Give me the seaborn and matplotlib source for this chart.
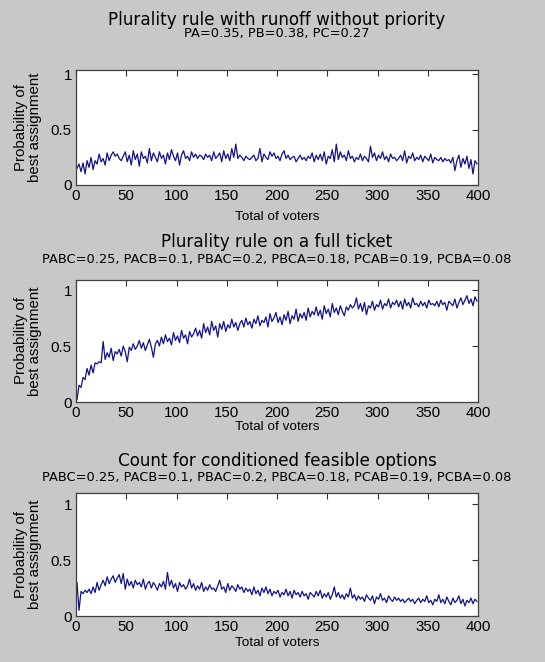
import numpy as np
import pandas as pd
import matplotlib
matplotlib.use("Agg")
import matplotlib.pyplot as plt
import seaborn as sns

# ---- data (one value every 2 voters) ----
voters = np.arange(1, 401, 2)

runoff = [
    0.15, 0.19, 0.12, 0.20, 0.10, 0.22, 0.16, 0.25, 0.14, 0.22, 0.19, 0.28, 0.21, 0.24, 0.18, 0.29, 0.22, 0.27, 0.30, 0.26,
    0.28, 0.24, 0.22, 0.26, 0.30, 0.21, 0.27, 0.18, 0.31, 0.23, 0.28, 0.17, 0.30, 0.24, 0.26, 0.20, 0.33, 0.22, 0.29, 0.25,
    0.21, 0.30, 0.24, 0.27, 0.19, 0.29, 0.23, 0.32, 0.26, 0.22, 0.29, 0.18, 0.27, 0.31, 0.24, 0.26, 0.22, 0.30, 0.25, 0.28,
    0.24, 0.27, 0.26, 0.23, 0.28, 0.25, 0.27, 0.22, 0.30, 0.24, 0.26, 0.29, 0.21, 0.31, 0.24, 0.28, 0.22, 0.33, 0.25, 0.37,
    0.24, 0.27, 0.25, 0.22, 0.26, 0.24, 0.23, 0.25, 0.27, 0.22, 0.24, 0.33, 0.21, 0.28, 0.25, 0.23, 0.30, 0.26, 0.29, 0.24,
    0.26, 0.22, 0.28, 0.31, 0.24, 0.27, 0.23, 0.25, 0.26, 0.21, 0.24, 0.27, 0.23, 0.25, 0.22, 0.26, 0.24, 0.29, 0.21, 0.27,
    0.23, 0.28, 0.22, 0.30, 0.19, 0.26, 0.24, 0.32, 0.21, 0.37, 0.23, 0.30, 0.25, 0.27, 0.22, 0.31, 0.24, 0.26, 0.21, 0.25,
    0.23, 0.28, 0.22, 0.26, 0.24, 0.21, 0.35, 0.25, 0.29, 0.22, 0.27, 0.24, 0.30, 0.23, 0.26, 0.21, 0.28, 0.24, 0.25, 0.22,
    0.24, 0.27, 0.22, 0.31, 0.20, 0.26, 0.24, 0.29, 0.22, 0.25, 0.23, 0.27, 0.21, 0.26, 0.24, 0.22, 0.28, 0.20, 0.25, 0.23,
    0.22, 0.25, 0.21, 0.24, 0.22, 0.23, 0.20, 0.25, 0.13, 0.22, 0.27, 0.16, 0.24, 0.19, 0.26, 0.15, 0.23, 0.10, 0.22, 0.19,
]

full_ticket = [
    0.02, 0.15, 0.13, 0.22, 0.20, 0.30, 0.24, 0.33, 0.26, 0.35, 0.34, 0.36, 0.35, 0.54, 0.38, 0.44, 0.40, 0.48, 0.37, 0.45,
    0.43, 0.47, 0.41, 0.50, 0.45, 0.36, 0.49, 0.46, 0.52, 0.47, 0.50, 0.55, 0.48, 0.53, 0.46, 0.51, 0.56, 0.49, 0.40, 0.52,
    0.55, 0.50, 0.58, 0.52, 0.60, 0.54, 0.57, 0.51, 0.62, 0.55, 0.59, 0.53, 0.64, 0.57, 0.60, 0.52, 0.63, 0.58, 0.61, 0.66,
    0.59, 0.64, 0.57, 0.70, 0.62, 0.67, 0.60, 0.72, 0.64, 0.68, 0.58, 0.70, 0.65, 0.72, 0.63, 0.69, 0.66, 0.74, 0.67, 0.71,
    0.64, 0.70, 0.73, 0.67, 0.75, 0.69, 0.72, 0.66, 0.74, 0.70, 0.77, 0.68, 0.73, 0.71, 0.76, 0.67, 0.79, 0.72, 0.75, 0.80,
    0.71, 0.76, 0.69, 0.78, 0.73, 0.81, 0.70, 0.77, 0.74, 0.83, 0.72, 0.79, 0.75, 0.80, 0.73, 0.84, 0.76, 0.81, 0.78, 0.85,
    0.77, 0.82, 0.74, 0.86, 0.79, 0.83, 0.76, 0.88, 0.80, 0.84, 0.78, 0.86, 0.81, 0.77, 0.85, 0.82, 0.87, 0.84, 0.86, 0.93,
    0.83, 0.88, 0.81, 0.89, 0.78, 0.86, 0.84, 0.90, 0.82, 0.87, 0.85, 0.91, 0.83, 0.88, 0.86, 0.92, 0.84, 0.89, 0.87, 0.91,
    0.85, 0.90, 0.83, 0.92, 0.86, 0.89, 0.84, 0.93, 0.87, 0.88, 0.85, 0.90, 0.86, 0.89, 0.84, 0.91, 0.87, 0.88, 0.86, 0.90,
    0.85, 0.91, 0.87, 0.89, 0.82, 0.90, 0.88, 0.86, 0.92, 0.84, 0.89, 0.93, 0.87, 0.91, 0.95, 0.88, 0.92, 0.86, 0.94, 0.90,
]

conditioned = [
    0.30, 0.05, 0.22, 0.20, 0.23, 0.21, 0.24, 0.20, 0.26, 0.21, 0.30, 0.23, 0.28, 0.32, 0.27, 0.35, 0.29, 0.33, 0.36, 0.30,
    0.34, 0.37, 0.29, 0.38, 0.24, 0.33, 0.27, 0.31, 0.25, 0.32, 0.28, 0.30, 0.26, 0.33, 0.24, 0.29, 0.31, 0.25, 0.30, 0.27,
    0.23, 0.29, 0.26, 0.31, 0.24, 0.39, 0.27, 0.32, 0.25, 0.29, 0.22, 0.30, 0.26, 0.28, 0.24, 0.27, 0.33, 0.25, 0.29, 0.23,
    0.27, 0.24, 0.30, 0.22, 0.26, 0.23, 0.28, 0.24, 0.25, 0.22, 0.27, 0.32, 0.24, 0.26, 0.21, 0.29, 0.23, 0.27, 0.25, 0.22,
    0.28, 0.24, 0.26, 0.21, 0.25, 0.22, 0.24, 0.19, 0.26, 0.20, 0.23, 0.18, 0.25, 0.21, 0.26, 0.20, 0.24, 0.18, 0.22, 0.20,
    0.23, 0.17, 0.21, 0.19, 0.24, 0.18, 0.22, 0.16, 0.23, 0.19, 0.21, 0.17, 0.22, 0.18, 0.20, 0.15, 0.21, 0.19, 0.17, 0.22,
    0.18, 0.23, 0.16, 0.20, 0.17, 0.21, 0.15, 0.19, 0.26, 0.17, 0.21, 0.16, 0.19, 0.15, 0.20, 0.17, 0.25, 0.16, 0.19, 0.14,
    0.18, 0.15, 0.17, 0.13, 0.19, 0.16, 0.14, 0.18, 0.11, 0.17, 0.15, 0.20, 0.14, 0.16, 0.12, 0.18, 0.15, 0.13, 0.17, 0.14,
    0.16, 0.13, 0.15, 0.12, 0.14, 0.16, 0.13, 0.15, 0.11, 0.14, 0.16, 0.12, 0.15, 0.13, 0.18, 0.12, 0.14, 0.10, 0.15, 0.13,
    0.19, 0.12, 0.15, 0.11, 0.17, 0.13, 0.10, 0.16, 0.12, 0.14, 0.18, 0.11, 0.15, 0.09, 0.14, 0.12, 0.16, 0.11, 0.15, 0.13,
]

titles = [
    "Plurality rule with runoff without priority",
    "Plurality rule on a full ticket",
    "Count for conditioned feasible options",
]
subtitles = [
    "PA=0.35, PB=0.38, PC=0.27",
    "PABC=0.25, PACB=0.1, PBAC=0.2, PBCA=0.18, PCAB=0.19, PCBA=0.08",
    "PABC=0.25, PACB=0.1, PBAC=0.2, PBCA=0.18, PCAB=0.19, PCBA=0.08",
]
y_max = [1.04, 1.09, 1.1]

# ---- style ----
sns.set_theme(style="white")
plt.rcParams["font.family"] = ["Liberation Sans", "DejaVu Sans"]
plt.rcParams["text.color"] = "black"
plt.rcParams["axes.labelcolor"] = "black"
bg = "#c8c8c8"
line_col = "#12128a"

fig = plt.figure(figsize=(5.45, 6.62), dpi=100, facecolor=bg)
W, H = 545, 662

# axes boxes in pixels: (left, top, right, bottom)
boxes = [(76, 70, 478, 185), (76, 280, 478, 402), (76, 493, 478, 616)]
title_y = [20, 242, 461]
sub_y = [34, 259, 478]
xlab_pad = [6, 0.5, 2]

series = [runoff, full_ticket, conditioned]
for i, (vals, box) in enumerate(zip(series, boxes)):
    l, t, r, b = box
    ax = fig.add_axes([l / W, 1 - b / H, (r - l) / W, (b - t) / H])
    df = pd.DataFrame({"voters": voters, "prob": vals})
    sns.lineplot(data=df, x="voters", y="prob", ax=ax, color=line_col, lw=0.9)

    ax.set_xlim(0, 400)
    ax.set_ylim(0, y_max[i])
    ax.set_xticks(range(0, 401, 50))
    ax.set_yticks([0, 0.5, 1])
    ax.set_yticklabels(["0", "0.5", "1"])
    ax.tick_params(direction="in", length=4, width=0.8, color="#303030",
                   labelcolor="black", labelsize=10.8, top=True, right=True, pad=3)
    for s in ax.spines.values():
        s.set_color("#404040")
        s.set_linewidth(0.9)
    ax.set_xlabel("Total of voters", fontsize=9.7, labelpad=xlab_pad[i])
    ax.set_ylabel("Probability of\nbest assignment", fontsize=10.8, labelpad=6,
                  linespacing=1.05)

    # two-line title: big main title + small parameter line
    cx = (l + r) / 2 / W
    fig.text(cx, 1 - title_y[i] / H, titles[i], ha="center", va="center",
             fontsize=12.1, family="DejaVu Sans")
    fig.text(cx, 1 - sub_y[i] / H, subtitles[i], ha="center", va="center",
             fontsize=9.35, family="DejaVu Sans")

fig.savefig("out.png", dpi=100, facecolor=bg)
